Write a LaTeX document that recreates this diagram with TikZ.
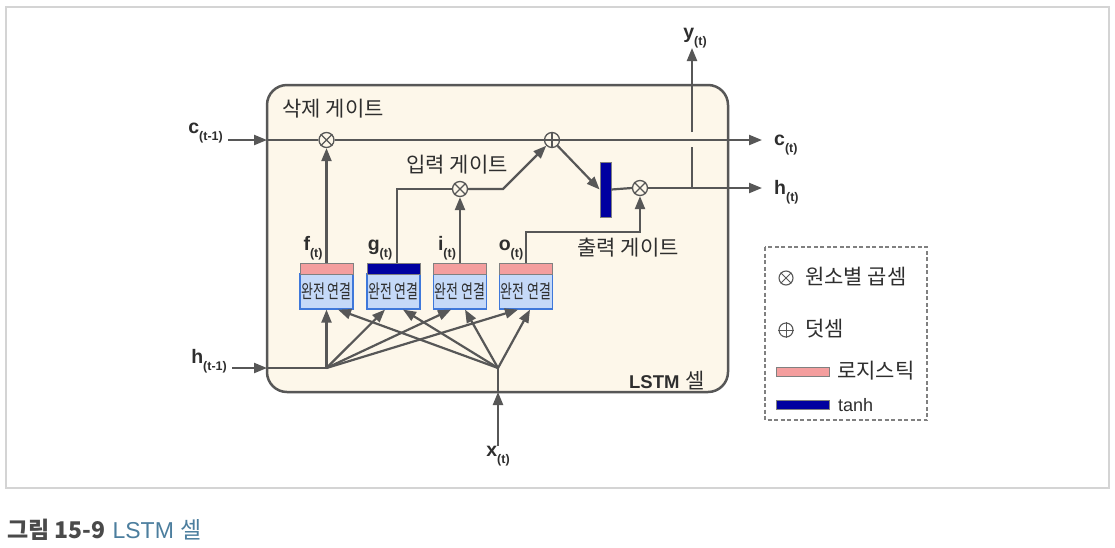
\documentclass[tikz,border=0pt]{standalone}
\usepackage{fontspec}
\setmainfont{Liberation Sans}
\newfontfamily\kr{Noto Sans CJK KR}
\usetikzlibrary{arrows.meta}
\definecolor{lg}{HTML}{575757}
\definecolor{cellfill}{HTML}{FDF7EA}
\definecolor{txt}{HTML}{2E2E2E}
\definecolor{pinkb}{HTML}{F49E9E}
\definecolor{fcfill}{HTML}{C5D9F8}
\definecolor{fcborder}{HTML}{3F78DA}
\definecolor{tanhb}{HTML}{0000A0}
\definecolor{framegray}{HTML}{D4D4D4}
\definecolor{capblue}{HTML}{4C7E9E}
\definecolor{capgray}{HTML}{4A4A4A}
\newcommand\mylbl[2]{#1\raisebox{-7.5pt}{\fontsize{12.5}{12.5}\selectfont #2}}
\begin{document}
\begin{tikzpicture}[x=1pt,y=-1pt,
  ln/.style={draw=lg, line width=2.2pt},
  arr/.style={ln, -{Triangle[length=13pt,width=10pt]}},
  mult/.style={circle, draw=lg, line width=1.3pt, fill=cellfill, minimum size=15pt, inner sep=0pt},
  xline/.style={draw=lg, line width=1.1pt},
  lab/.style={text=txt, font=\fontsize{19.5}{19.5}\selectfont\bfseries, inner sep=0pt},
  krlab/.style={text=txt, font=\kr\fontsize{21}{21}\selectfont, inner sep=0pt},
  fcbox/.style={rectangle, draw=fcborder, fill=fcfill, line width=1.2pt, minimum width=53pt, minimum height=35pt, inner sep=0pt, font=\kr\fontsize{19}{19}\selectfont, text=txt},
  band/.style={rectangle, draw=gray, line width=1pt, minimum width=53pt, minimum height=11pt, inner sep=0pt}
]
\useasboundingbox (0,0) rectangle (1115,547);
\fill[white] (0,0) rectangle (1115,547);
\draw[framegray, line width=1.5pt] (6,7) rectangle (1109,488);

% cell
\draw[draw=lg, fill=cellfill, line width=2.5pt, rounded corners=20pt] (267,85) rectangle (728,392);

% operators
\node[mult] (mf) at (326.5,140) {};
\node[mult] (ad) at (552,140) {};
\node[mult] (mi) at (460,189) {};
\node[mult] (mo) at (640,188) {};
\draw[xline] (mf.north west) -- (mf.south east) (mf.north east) -- (mf.south west);
\draw[xline] (mi.north west) -- (mi.south east) (mi.north east) -- (mi.south west);
\draw[xline] (mo.north west) -- (mo.south east) (mo.north east) -- (mo.south west);
\draw[xline] (ad.north) -- (ad.south) (ad.west) -- (ad.east);

\node[rectangle, fill=tanhb, draw=gray, line width=0.8pt, minimum width=11pt, minimum height=55pt, inner sep=0pt] (th) at (605.5,189.5) {};

% fully connected boxes
\node[fcbox] (bf) at (326.5,291.5) {\scalebox{0.68}[1]{완전 연결}};
\node[fcbox] (bg) at (393.5,291.5) {\scalebox{0.68}[1]{완전 연결}};
\node[fcbox] (bi) at (460,291.5) {\scalebox{0.68}[1]{완전 연결}};
\node[fcbox] (bo) at (526,291.5) {\scalebox{0.68}[1]{완전 연결}};
\node[band, fill=pinkb] (rf) at (326.5,268.5) {};
\node[band, fill=tanhb] (rg) at (393.5,268.5) {};
\node[band, fill=pinkb] (ri) at (460,268.5) {};
\node[band, fill=pinkb] (ro) at (526,268.5) {};

% coordinates
\coordinate (cin) at (228,140);
\coordinate (cb) at (267,140);
\coordinate (cout) at (762,140);
\coordinate (hout) at (762,188);
\coordinate (ycross) at (692,188);
\coordinate (yg1) at (692,147);
\coordinate (yg2) at (692,132);
\coordinate (yout) at (692,48);
\coordinate (kink) at (503,189);
\coordinate (ocorner) at (640,232);
\coordinate (hstart) at (232,368);
\coordinate (hb) at (267,368);
\coordinate (hj) at (326.5,368);
\coordinate (xstart) at (498,446);
\coordinate (xb) at (498,392);
\coordinate (xj) at (498,368);

% cell state line
\draw[arr] (cin) -- (cb);
\draw[ln] (cb) -- (mf);
\draw[ln] (mf) -- (ad);
\draw[arr] (ad) -- (cout);
% forget
\draw[arr] (rf.north) -- (mf.south);
% input
\draw[ln] ([xshift=3.5pt]rg.north) |- (mi.west);
\draw[arr] (ri.north) -- (mi.south);
\draw[arr] (mi.east) -- (kink) -- (ad);
% output
\draw[arr] (ad) -- (th.west);
\draw[ln] (th.east) -- (mo.west);
\draw[arr] (mo.east) -- (hout);
\draw[arr] (ro.north) |- (ocorner) -- (mo.south);
% y
\draw[ln] (ycross) -- (yg1);
\draw[arr] (yg2) -- (yout);

% h(t-1) and x(t) fan
\draw[arr] (hstart) -- (hb);
\draw[ln] (hb) -- (hj);
\draw[arr] (xstart) -- (xb);
\draw[ln] (xb) -- (xj);
\draw[arr] (hj) -- (bf.south);
\draw[arr] (hj) -- ([xshift=-8.5pt]bg.south);
\draw[arr] (hj) -- ([xshift=-9pt]bi.south);
\draw[arr] (hj) -- ([xshift=-8pt]bo.south);
\draw[arr] (xj) -- ([xshift=11.5pt]bf.south);
\draw[arr] (xj) -- ([xshift=9.5pt]bg.south);
\draw[arr] (xj) -- ([xshift=5pt]bi.south);
\draw[arr] (xj) -- ([xshift=4pt]bo.south);

% labels
\node[lab, anchor=base east] (lc) at (223,133) {\mylbl{c}{(t-1)}};
\node[lab, anchor=base east] (lh) at (227,363) {\mylbl{h}{(t-1)}};
\node[lab, anchor=base] (lx) at (498,456) {\mylbl{x}{(t)}};
\node[lab, anchor=base] (ly) at (695,38) {\mylbl{y}{(t)}};
\node[lab, anchor=base west] (lct) at (774,145) {\mylbl{c}{(t)}};
\node[lab, anchor=base west] (lht) at (774,194) {\mylbl{h}{(t)}};
\node[lab, anchor=base] (lf) at (313,250) {\mylbl{f}{(t)}};
\node[lab, anchor=base] (lg) at (380,250) {\mylbl{g}{(t)}};
\node[lab, anchor=base] (li) at (447,250) {\mylbl{i}{(t)}};
\node[lab, anchor=base] (lo) at (511,250) {\mylbl{o}{(t)}};

\node[krlab] (kf) at (333,109) {삭제 게이트};
\node[krlab] (ki) at (457,165) {입력 게이트};
\node[krlab] (ko) at (628,248) {출력 게이트};
\node[text=txt, inner sep=0pt, anchor=east] (cellname) at (705,381) {{\fontsize{18.5}{18.5}\selectfont\bfseries LSTM}\hspace{6pt}{\kr\fontsize{21}{21}\selectfont 셀}};

% legend
\draw[gray, line width=1.2pt, dash pattern=on 4pt off 2.5pt] (765,247) rectangle (927,420);
\node[mult, fill=white, minimum size=14pt, line width=1.1pt] (lm) at (786,278) {};
\draw[draw=lg, line width=1pt] (lm.north west) -- (lm.south east) (lm.north east) -- (lm.south west);
\node[mult, fill=white, minimum size=14pt, line width=1.1pt] (la) at (786,330) {};
\draw[draw=lg, line width=1pt] (la.north) -- (la.south) (la.west) -- (la.east);
\node[band, fill=pinkb, minimum height=9pt] (lp) at (802.5,372) {};
\node[band, fill=tanhb, minimum height=9pt] (lt) at (802.5,405) {};
\node[krlab, anchor=west] (tm) at (805,277) {원소별 곱셈};
\node[krlab, anchor=west] (ta) at (805,329) {덧셈};
\node[krlab, anchor=west] (tp) at (837,371) {로지스틱};
\node[text=txt, anchor=west, inner sep=0pt, font=\fontsize{18}{18}\selectfont] (tt) at (838,405) {tanh};

% caption
\node[anchor=west, inner sep=0pt] (cap) at (7,530) {{\kr\fontsize{23}{23}\selectfont\color{capgray}\bfseries 그림 15-9}\hspace{7pt}{\color{capblue}\fontsize{23}{23}\selectfont LSTM {\kr 셀}}};
\end{tikzpicture}
\end{document}
